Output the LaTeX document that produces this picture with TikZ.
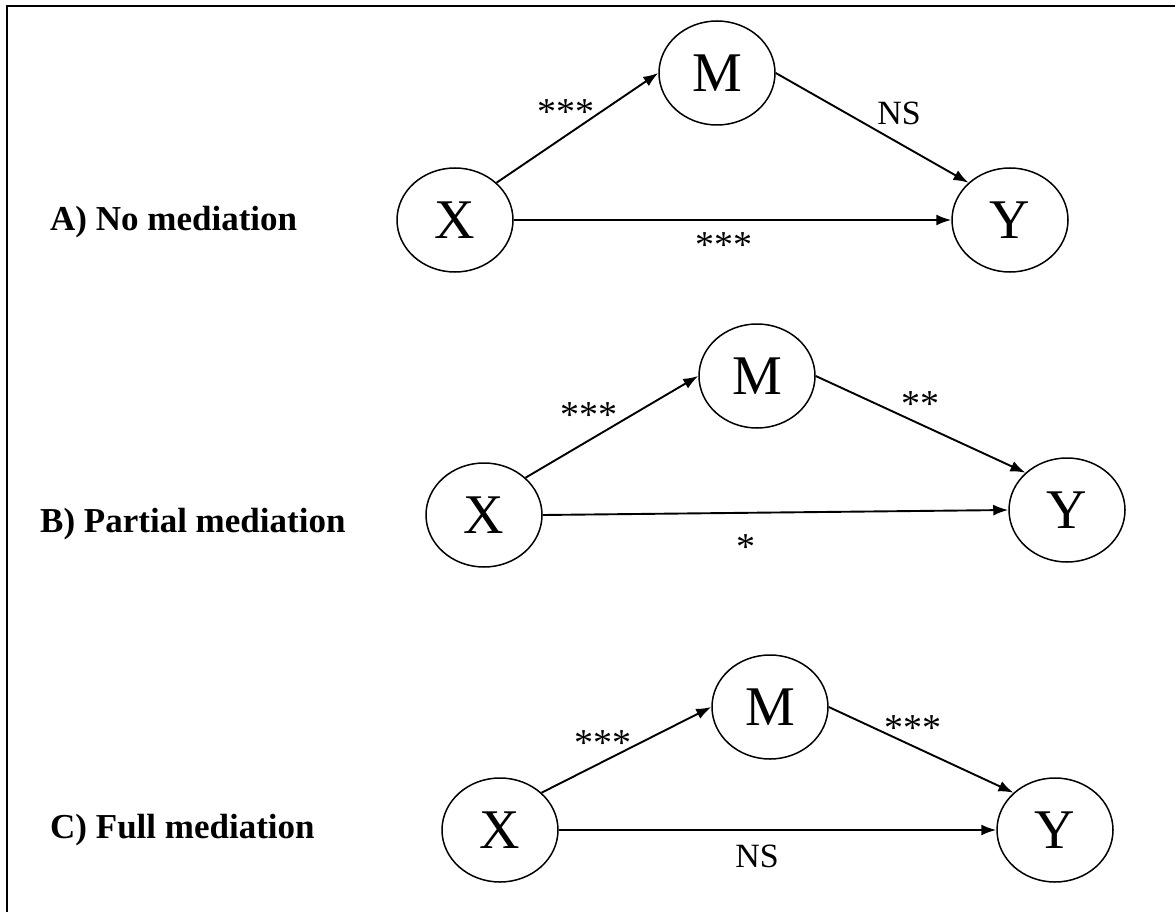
\documentclass[tikz,border=0pt]{standalone}
\usepackage{fontspec}
\setmainfont{Liberation Serif}
\usetikzlibrary{shapes.geometric,arrows.meta}

\begin{document}
\begin{tikzpicture}[x=1pt,y=-1pt,
  var/.style={draw, ellipse, line width=1.5pt, minimum width=116pt,
    minimum height=104pt, inner sep=0pt, font=\fontsize{56}{60}\selectfont},
  effect/.style={line width=1.9pt, -{Latex[length=15pt,width=11pt]}},
  heading/.style={anchor=base west, inner sep=0pt,
    font=\fontsize{35}{40}\selectfont\bfseries},
  sig/.style={anchor=base, inner sep=0pt, font=\fontsize{34}{40}\selectfont},
  stars/.style={anchor=base, inner sep=0pt, font=\fontsize{38}{42}\selectfont},
]
\useasboundingbox (0,0) rectangle (1175,912);

% frame
\coordinate (fr) at (1175,6);
\coordinate (fc) at (7,6);
\coordinate (fb) at (7,912);
\draw[line width=2pt] (fr) -- (fc) -- (fb);

% A) no mediation
\node[heading] (la) at (50,230) {A) No mediation};
\node[var] (xa) at (455,220) {X};
\node[var] (ma) at (717,73) {M};
\node[var] (ya) at (1010,220) {Y};
\draw[effect] (xa.north east) -- (ma.west);
\draw[effect] (ma.east) -- (ya.north west);
\draw[effect] (xa.east) -- (ya.west);
\node[stars] (sa1) at (566,125) {***};
\node[sig] (sa2) at (899,125) {NS};
\node[stars] (sa3) at (724,257) {***};

% B) partial mediation
\node[heading] (lb) at (40,532) {B) Partial mediation};
\node[var] (xb) at (484,515) {X};
\node[var] (mb) at (757,376) {M};
\node[var] (yb) at (1067,510) {Y};
\draw[effect] (xb.north east) -- (mb.west);
\draw[effect] (mb.east) -- (yb.north west);
\draw[effect] (xb.east) -- (yb.west);
\node[stars] (sb1) at (589,427) {***};
\node[stars] (sb2) at (920,416) {**};
\node[stars] (sb3) at (746,559) {*};

% C) full mediation
\node[heading] (lc) at (50,838) {C) Full mediation};
\node[var] (xc) at (500,830) {X};
\node[var] (mc) at (770,707) {M};
\node[var] (yc) at (1055,830) {Y};
\draw[effect] (xc.north east) -- (mc.west);
\draw[effect] (mc.east) -- (yc.north west);
\draw[effect] (xc.east) -- (yc.west);
\node[stars] (sc1) at (603,755) {***};
\node[stars] (sc2) at (913,740) {***};
\node[sig] (sc3) at (757,867) {NS};
\end{tikzpicture}
\end{document}
